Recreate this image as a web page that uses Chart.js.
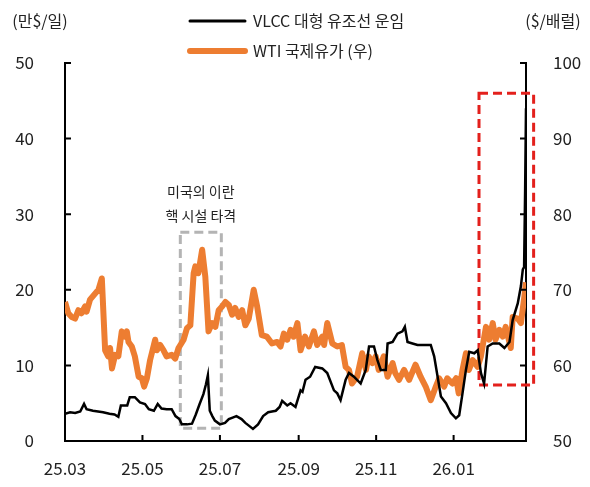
<!DOCTYPE html>
<html>
<head>
<meta charset="utf-8">
<script src="https://cdn.jsdelivr.net/npm/chart.js@4/dist/chart.umd.min.js"></script>
<style>
  html, body { margin: 0; padding: 0; background: #fff; }
  #wrap { width: 590px; height: 487px; position: relative; }
</style>
</head>
<body>
<div id="wrap"><canvas id="freightChart"></canvas></div>
<script>
// x = days since 2025-03-01
const xTickDays = [0, 61, 122, 184, 245, 306];
const xTickLabels = ['25.03', '25.05', '25.07', '25.09', '25.11', '26.01'];

// VLCC rate (만$/일), left axis
const vlccDays = [0, 4, 8, 12, 15, 17, 22, 26, 30, 35, 39, 42, 44, 49, 51, 55, 59, 63, 66, 70,
  73, 76, 80, 84, 87, 90, 92, 96, 100, 103, 106, 109, 111, 112.5, 114, 116, 118, 122, 126, 129,
  132, 135, 139, 142, 145, 148, 152, 156, 160, 163, 166, 169, 171, 175, 177.6, 181.5, 185.5, 187, 189.4, 193,
  197, 202.6, 206.5, 211.8, 214.4, 217, 221, 223.6, 227.5, 232.8, 236.8, 239.4, 243.3, 246, 248.6, 252.6, 254, 258, 261.8, 265.7,
  267.6, 269.7, 273.6, 277.6, 288, 290.7, 293.4, 296, 300, 303.9, 307.8, 310.4, 313, 315.7, 318.3, 322.3, 325, 327.5, 330, 332.8,
  336.8, 342, 346, 350, 352.5, 356.5, 359, 360.5, 361.5, 362.3, 363];
const vlccRates = [3.6, 3.8, 3.7, 3.9, 4.9, 4.2, 4.0, 3.9, 3.8, 3.6, 3.5, 3.2, 4.7, 4.7, 5.8, 5.8, 5.1, 4.9, 4.2, 4.0,
  4.9, 4.3, 4.2, 4.2, 3.3, 2.9, 2.2, 2.2, 2.3, 3.5, 4.9, 6.2, 7.5, 8.7, 4.0, 3.3, 2.7, 2.2, 2.4, 2.9,
  3.1, 3.3, 2.9, 2.4, 2.0, 1.6, 2.2, 3.3, 3.8, 3.9, 4.0, 4.5, 5.3, 4.7, 5.0, 4.5, 6.7, 6.5, 8.1, 8.5,
  9.8, 9.6, 9.0, 6.7, 6.3, 5.4, 8.1, 9.0, 8.5, 7.6, 9.4, 12.5, 12.5, 10.7, 9.4, 9.4, 12.9, 13.1, 14.2, 14.5,
  15.1, 13.1, 12.9, 12.7, 12.7, 11.2, 8.5, 5.9, 5.0, 3.7, 3.0, 3.4, 6.3, 9.4, 11.8, 11.6, 12.0, 9.0, 7.6, 12.5,
  12.9, 12.9, 12.3, 13.1, 16.0, 18.2, 20.5, 22.7, 23.0, 33.0, 44.0];

// WTI price ($/배럴), right axis
const wtiDays = [0, 2.6, 5.3, 8, 10.5, 13, 15.8, 17, 19.7, 23.7, 26.3, 29, 31.6, 34, 35.5, 37, 39.5, 42, 44.7, 47.4,
  48.7, 50, 52.6, 55, 58, 60.5, 62.3, 64.5, 67, 71, 72.4, 75, 77.6, 80, 84, 86.8, 89.4, 93.4, 96, 98.7,
  101.3, 102.6, 105, 108, 110.5, 113, 115.8, 118.4, 121, 123.7, 126.3, 129, 131.6, 134, 136.8, 139.5, 142, 144.7, 148.6, 151.3,
  155, 159, 163, 167, 169.7, 172.3, 175, 177.6, 180, 183, 185.5, 189, 192, 196, 198.6, 202.6, 204, 206.5, 210.5, 214.4,
  218, 221, 223.6, 226, 230, 234, 237, 239, 242, 244.7, 247, 251, 254, 258, 260, 263, 267, 271, 276, 280,
  284, 288, 292, 294.6, 298.6, 301, 305, 308, 310, 313, 315.7, 318, 321, 325, 327.5, 331.5, 334, 336.8, 339, 342,
  344.7, 347, 351, 352.5, 356.5, 359, 361.7, 363];
const wtiPrices = [68.4, 66.9, 66.4, 66.2, 67.3, 66.9, 67.8, 67.1, 68.7, 69.5, 70.0, 71.5, 62.0, 61.2, 62.3, 59.6, 61.4, 61.2, 64.5, 63.8,
  64.5, 63.1, 62.5, 61.2, 58.5, 58.3, 57.2, 58.3, 60.7, 63.4, 62.0, 62.7, 62.0, 61.2, 61.4, 60.9, 62.3, 63.4, 64.9, 65.3,
  72.2, 73.1, 72.2, 75.3, 71.7, 64.5, 65.6, 65.1, 67.3, 67.8, 68.4, 68.0, 66.7, 67.6, 66.4, 67.3, 65.3, 66.2, 70.0, 67.8,
  64.0, 63.8, 62.9, 63.1, 62.5, 64.2, 63.4, 64.7, 63.8, 65.6, 62.0, 63.8, 62.5, 64.5, 62.7, 63.8, 62.7, 65.6, 62.9, 62.5,
  62.7, 59.8, 59.4, 57.6, 58.5, 61.6, 59.4, 61.2, 60.3, 61.2, 59.4, 61.2, 58.5, 60.3, 59.0, 58.1, 59.4, 58.1, 60.1, 58.5,
  57.2, 55.4, 57.2, 58.3, 57.2, 58.3, 57.6, 58.3, 56.3, 59.4, 61.6, 59.4, 60.7, 59.8, 61.2, 65.1, 63.4, 65.6, 63.4, 64.7,
  63.8, 65.1, 62.3, 66.4, 66.2, 65.6, 69.1, 71.0];

// dashed highlight boxes, in data units (x days, left axis)
const grayBox = { x0: 90.8, x1: 123.1, y0: 1.7, y1: 27.6 };
const redBox = { x0: 326, x1: 369, y0: 7.4, y1: 46.0 };
const noteLines = ['미국의 이란', '핵 시설 타격'];

const FONT = "'Noto Sans CJK KR', 'Noto Sans', sans-serif";
Chart.defaults.font.family = FONT;
Chart.defaults.color = '#222';

const overlay = {
  id: 'overlay',
  beforeDatasetsDraw(chart) {
    const { ctx, scales: { x, y } } = chart;
    const box = (b, color) => {
      const l = x.getPixelForValue(b.x0), r = x.getPixelForValue(b.x1);
      const t = y.getPixelForValue(b.y1), btm = y.getPixelForValue(b.y0);
      ctx.save();
      ctx.setLineDash([9, 5]);
      ctx.lineWidth = 3;
      ctx.strokeStyle = color;
      ctx.strokeRect(l, t, r - l, btm - t);
      ctx.restore();
    };
    box(grayBox, '#b4b4b4');
    box(redBox, '#e3201c');
  },
  afterDraw(chart) {
    const { ctx, chartArea: a, scales: { x, y, y1 } } = chart;
    ctx.save();
    // inward tick marks
    ctx.strokeStyle = '#000';
    ctx.lineWidth = 2;
    ctx.beginPath();
    y.ticks.forEach(t => { const p = y.getPixelForValue(t.value); ctx.moveTo(a.left, p); ctx.lineTo(a.left + 6, p); });
    y1.ticks.forEach(t => { const p = y1.getPixelForValue(t.value); ctx.moveTo(a.right, p); ctx.lineTo(a.right - 6, p); });
    x.ticks.forEach(t => { const p = x.getPixelForValue(t.value); ctx.moveTo(p, a.bottom); ctx.lineTo(p, a.bottom - 6); });
    ctx.stroke();

    // legend
    const ds = chart.data.datasets;
    ctx.lineCap = 'round';
    [[0, 21], [1, 51]].forEach(([i, ly]) => {
      ctx.strokeStyle = ds[i].borderColor;
      ctx.lineWidth = i === 0 ? 3 : 6;
      ctx.beginPath(); ctx.moveTo(190, ly); ctx.lineTo(245, ly); ctx.stroke();
      ctx.fillStyle = '#222';
      ctx.font = '16px ' + FONT;
      ctx.textAlign = 'left';
      ctx.textBaseline = 'middle';
      ctx.fillText(ds[i].label, 253, ly);
    });

    // axis unit titles
    ctx.font = '16px ' + FONT;
    ctx.textAlign = 'center';
    ctx.fillText('(만$/일)', 40, 21);
    ctx.fillText('($/배럴)', 553, 21);

    // note above gray box
    ctx.font = '14px ' + FONT;
    const cx = (x.getPixelForValue(grayBox.x0) + x.getPixelForValue(grayBox.x1)) / 2;
    const top = y.getPixelForValue(grayBox.y1);
    ctx.fillText(noteLines[0], cx, top - 41);
    ctx.fillText(noteLines[1], cx, top - 17);
    ctx.restore();
  }
};

const toPoints = (xs, ys) => xs.map((d, i) => ({ x: d, y: ys[i] }));

new Chart(document.getElementById('freightChart'), {
  type: 'line',
  data: {
    datasets: [{
      label: 'VLCC 대형 유조선 운임',
      data: toPoints(vlccDays, vlccRates),
      borderColor: '#000000',
      borderWidth: 2.5,
      pointRadius: 0,
      tension: 0,
      yAxisID: 'y',
      order: 0
    }, {
      label: 'WTI 국제유가 (우)',
      data: toPoints(wtiDays, wtiPrices),
      borderColor: '#ED7D31',
      borderWidth: 6,
      borderJoinStyle: 'round',
      pointRadius: 0,
      tension: 0,
      yAxisID: 'y1',
      order: 1
    }]
  },
  options: {
    responsive: true,
    maintainAspectRatio: false,
    animation: false,
    layout: { padding: { top: 63, left: 0, right: 0, bottom: 0 } },
    plugins: { legend: { display: false }, tooltip: { enabled: false } },
    scales: {
      x: {
        type: 'linear',
        min: 0,
        max: 363,
        grid: { display: false },
        border: { color: '#000', width: 2 },
        afterBuildTicks: s => { s.ticks = xTickDays.map(v => ({ value: v })); },
        afterFit: s => { s.height = 46; },
        ticks: {
          padding: 9,
          maxRotation: 0,
          font: { size: 17 },
          callback: v => xTickLabels[xTickDays.indexOf(v)]
        }
      },
      y: {
        position: 'left',
        min: 0,
        max: 50,
        grid: { display: false },
        border: { color: '#000', width: 2 },
        afterFit: s => { s.width = 65; },
        ticks: { stepSize: 10, padding: 23, font: { size: 17 } }
      },
      y1: {
        position: 'right',
        min: 50,
        max: 100,
        grid: { display: false },
        border: { color: '#000', width: 2 },
        afterFit: s => { s.width = 64; },
        ticks: { stepSize: 10, padding: 19, font: { size: 17 } }
      }
    }
  },
  plugins: [overlay]
});
</script>
</body>
</html>
